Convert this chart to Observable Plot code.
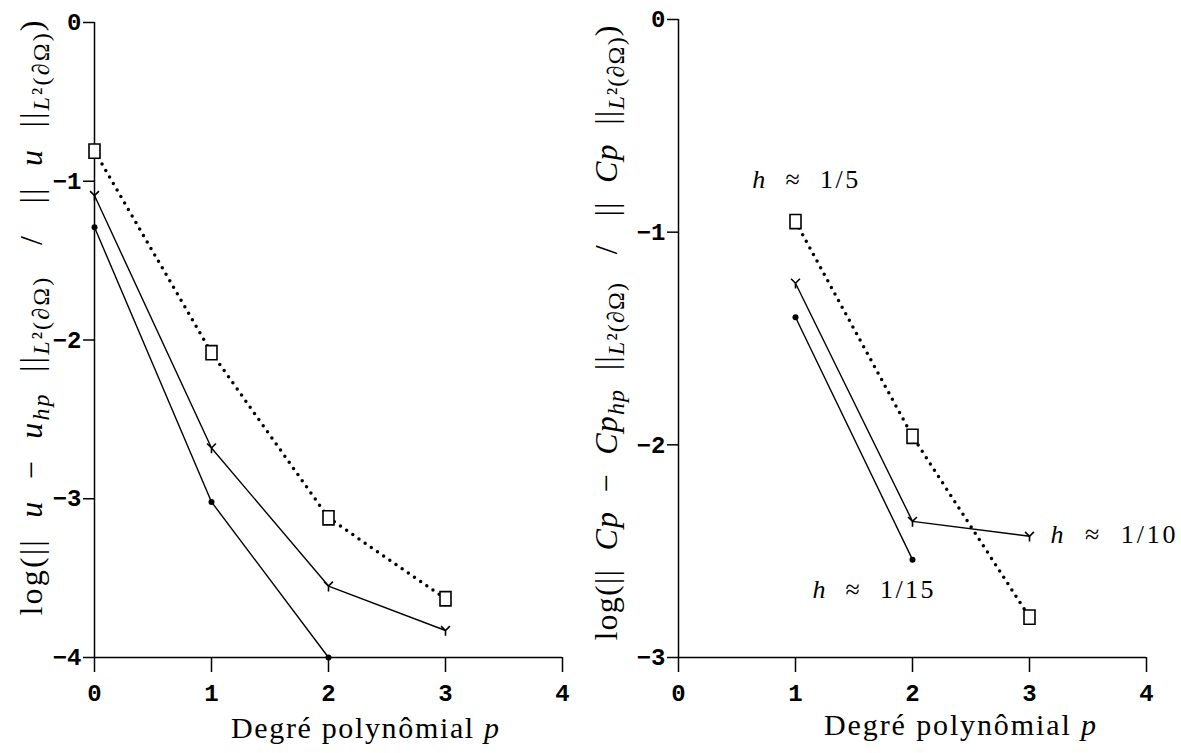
<!DOCTYPE html>
<html><head><meta charset="utf-8">
<script src="https://cdn.jsdelivr.net/npm/d3@7"></script>
<script src="https://cdn.jsdelivr.net/npm/@observablehq/plot@0.6"></script>
<style>
body{margin:0;background:#fff;}
#wrap{position:relative;width:1181px;height:753px;background:#fff;overflow:hidden;}
#left{position:absolute;left:0;top:0}
#right{position:absolute;left:570px;top:0}
</style></head><body><div id="wrap"><div id="left"></div><div id="right"></div></div>
<script>
// ---- data ----
const leftDegrees = [0, 1, 2, 3];
const leftSquare = [-0.81, -2.08, -3.12, -3.63];   // h ≈ 1/5
const leftY      = [-1.09, -2.68, -3.55, -3.83];   // h ≈ 1/10
const leftDot    = [-1.29, -3.02, -4.00];          // h ≈ 1/15
const rightDegrees = [1, 2, 3];
const rightSquare = [-0.95, -1.96, -2.81];
const rightY      = [-1.24, -2.36, -2.43];
const rightDot    = [-1.40, -2.54];
const xTicks = [0, 1, 2, 3, 4];
const leftYTicks = [0, -1, -2, -3, -4];
const rightYTicks = [0, -1, -2, -3];
const annoLabels = ["h  ≈  1/5", "h  ≈  1/10", "h  ≈  1/15"];
const annoP = [0.63, 3.18, 1.145];
const annoV = [-0.79, -2.46, -2.72];
const xLabel = "Degré polynômial ";

// ---- helpers ----
const toRows = (ps, vs) => vs.map((v, i) => ({p: ps[i], v}));
const ySymbol = {draw(ctx, size) {
  const s = Math.sqrt(size);
  const a = s * 0.5, st = s * 0.6;
  ctx.moveTo(-a, -a); ctx.lineTo(0, 0); ctx.lineTo(a, -a);
  ctx.moveTo(0, 0); ctx.lineTo(0, st);
}};
const rectSymbol = {draw(ctx, size) {
  const s = Math.sqrt(size);
  const w = s * 0.62, h = s * 0.8;
  ctx.moveTo(-w/2, -h/2); ctx.lineTo(w/2, -h/2); ctx.lineTo(w/2, h/2); ctx.lineTo(-w/2, h/2); ctx.closePath();
}};
const tickFmt = d => d === 0 ? "0" : "−" + Math.abs(d);

function panel(ps, sq, yy, dt, yTicks, yMin, opts, extra) {
  return Plot.plot({
    width: opts.width, height: 753,
    marginLeft: opts.ml, marginRight: opts.mr, marginTop: opts.mt, marginBottom: 96,
    x: {domain: [0, 4]},
    y: {domain: [yMin, 0]},
    style: {fontFamily: "'Liberation Mono', monospace", fontSize: "24px", fontWeight: "bold", color: "black", background: "white"},
    marks: [
      Plot.axisX({ticks: xTicks, tickSize: 15, tickPadding: 11, tickFormat: d => String(d), label: null, strokeWidth: 1.5}),
      Plot.axisY({ticks: yTicks, tickSize: 11, tickPadding: 2, tickFormat: tickFmt, label: null, strokeWidth: 1.5}),
      Plot.ruleX([0], {strokeWidth: 1.5}),
      Plot.ruleY([yMin], {strokeWidth: 1.5}),
      Plot.line(toRows(ps, sq), {x: "p", y: "v", stroke: "black", strokeWidth: 3.5, strokeDasharray: "0 7.5", strokeLinecap: "round"}),
      Plot.line(toRows(ps, yy), {x: "p", y: "v", stroke: "black", strokeWidth: 1.4}),
      Plot.line(toRows(ps, dt), {x: "p", y: "v", stroke: "black", strokeWidth: 1.4}),
      Plot.dot(toRows(ps, sq), {x: "p", y: "v", symbol: rectSymbol, r: 10, stroke: "black", fill: "white", strokeWidth: 1.6}),
      Plot.dot(toRows(ps, yy), {x: "p", y: "v", symbol: ySymbol, r: 5, stroke: "black", fill: "none", strokeWidth: 1.6}),
      Plot.dot(toRows(ps, dt), {x: "p", y: "v", r: 3, fill: "black", stroke: "none"}),
      ...(extra || [])
    ]
  });
}

function addLabel(svg, x, y, rotate, parts, size, len) {
  const t = d3.select(svg).append("text")
    .attr("transform", `translate(${x},${y})` + (rotate ? ` rotate(${rotate})` : ""))
    .attr("text-anchor", "middle")
    .attr("font-family", "'Liberation Serif', 'DejaVu Serif', serif")
    .attr("font-size", size)
    .attr("font-weight", "normal")
    .attr("fill", "black")
    .style("white-space", "pre");
  if (len) t.attr("textLength", len).attr("lengthAdjust", "spacing");
  for (const p of parts) {
    const s = t.append("tspan").text(p.t);
    if (p.i) s.attr("font-style", "italic");
    if (p.sub) s.attr("baseline-shift", "-28%").attr("font-size", "75%");
  }
}

// ---- left panel ----
const L = panel(leftDegrees, leftSquare, leftY, leftDot, leftYTicks, -4, {width: 570, ml: 94, mr: 8, mt: 22});
document.getElementById("left").append(L);
addLabel(L, 365, 738, 0, [{t: xLabel}, {t: "p", i: true}], 30, 268);
addLabel(L, 42, 318, -90, [
  {t: "log(||  "}, {t: "u", i: true}, {t: "  −  "}, {t: "u", i: true}, {t: "hp", i: true, sub: true},
  {t: "  ||"}, {t: "L", i: true, sub: true}, {t: "²(∂Ω)", sub: true},
  {t: "   /   ||  "}, {t: "u", i: true}, {t: "  ||"}, {t: "L", i: true, sub: true}, {t: "²(∂Ω)", sub: true}, {t: ")"}
], 32, 595);

// ---- right panel ----
const annos = annoLabels.map((t, i) => ({t, p: annoP[i], v: annoV[i]}));
const annoLen = [106, 125, 121];
const R = panel(rightDegrees, rightSquare, rightY, rightDot, rightYTicks, -3, {width: 611, ml: 108, mr: 35, mt: 19}, [
  Plot.text(annos, {x: "p", y: "v", text: "t", textAnchor: "start", lineAnchor: "bottom", fontFamily: "'Liberation Serif', serif", fontSize: 26, fontWeight: "normal", fill: "black"})
]);
document.getElementById("right").append(R);
d3.select(R).selectAll('g[aria-label="text"] text').each(function(_, i) {
  const s = d3.select(this); const txt = s.text();
  s.text(null).style("white-space", "pre").attr("textLength", annoLen[i]).attr("lengthAdjust", "spacing");
  s.append("tspan").attr("font-style", "italic").text(txt.slice(0, 1));
  s.append("tspan").text(txt.slice(1));
});
addLabel(R, 390, 735, 0, [{t: xLabel}, {t: "p", i: true}], 30, 272);
addLabel(R, 47, 333, -90, [
  {t: "log(||  "}, {t: "Cp", i: true}, {t: "  −  "}, {t: "Cp", i: true}, {t: "hp", i: true, sub: true},
  {t: "  ||"}, {t: "L", i: true, sub: true}, {t: "²(∂Ω)", sub: true},
  {t: "   /   ||  "}, {t: "Cp", i: true}, {t: "  ||"}, {t: "L", i: true, sub: true}, {t: "²(∂Ω)", sub: true}, {t: ")"}
], 32, 615);
</script></body></html>
